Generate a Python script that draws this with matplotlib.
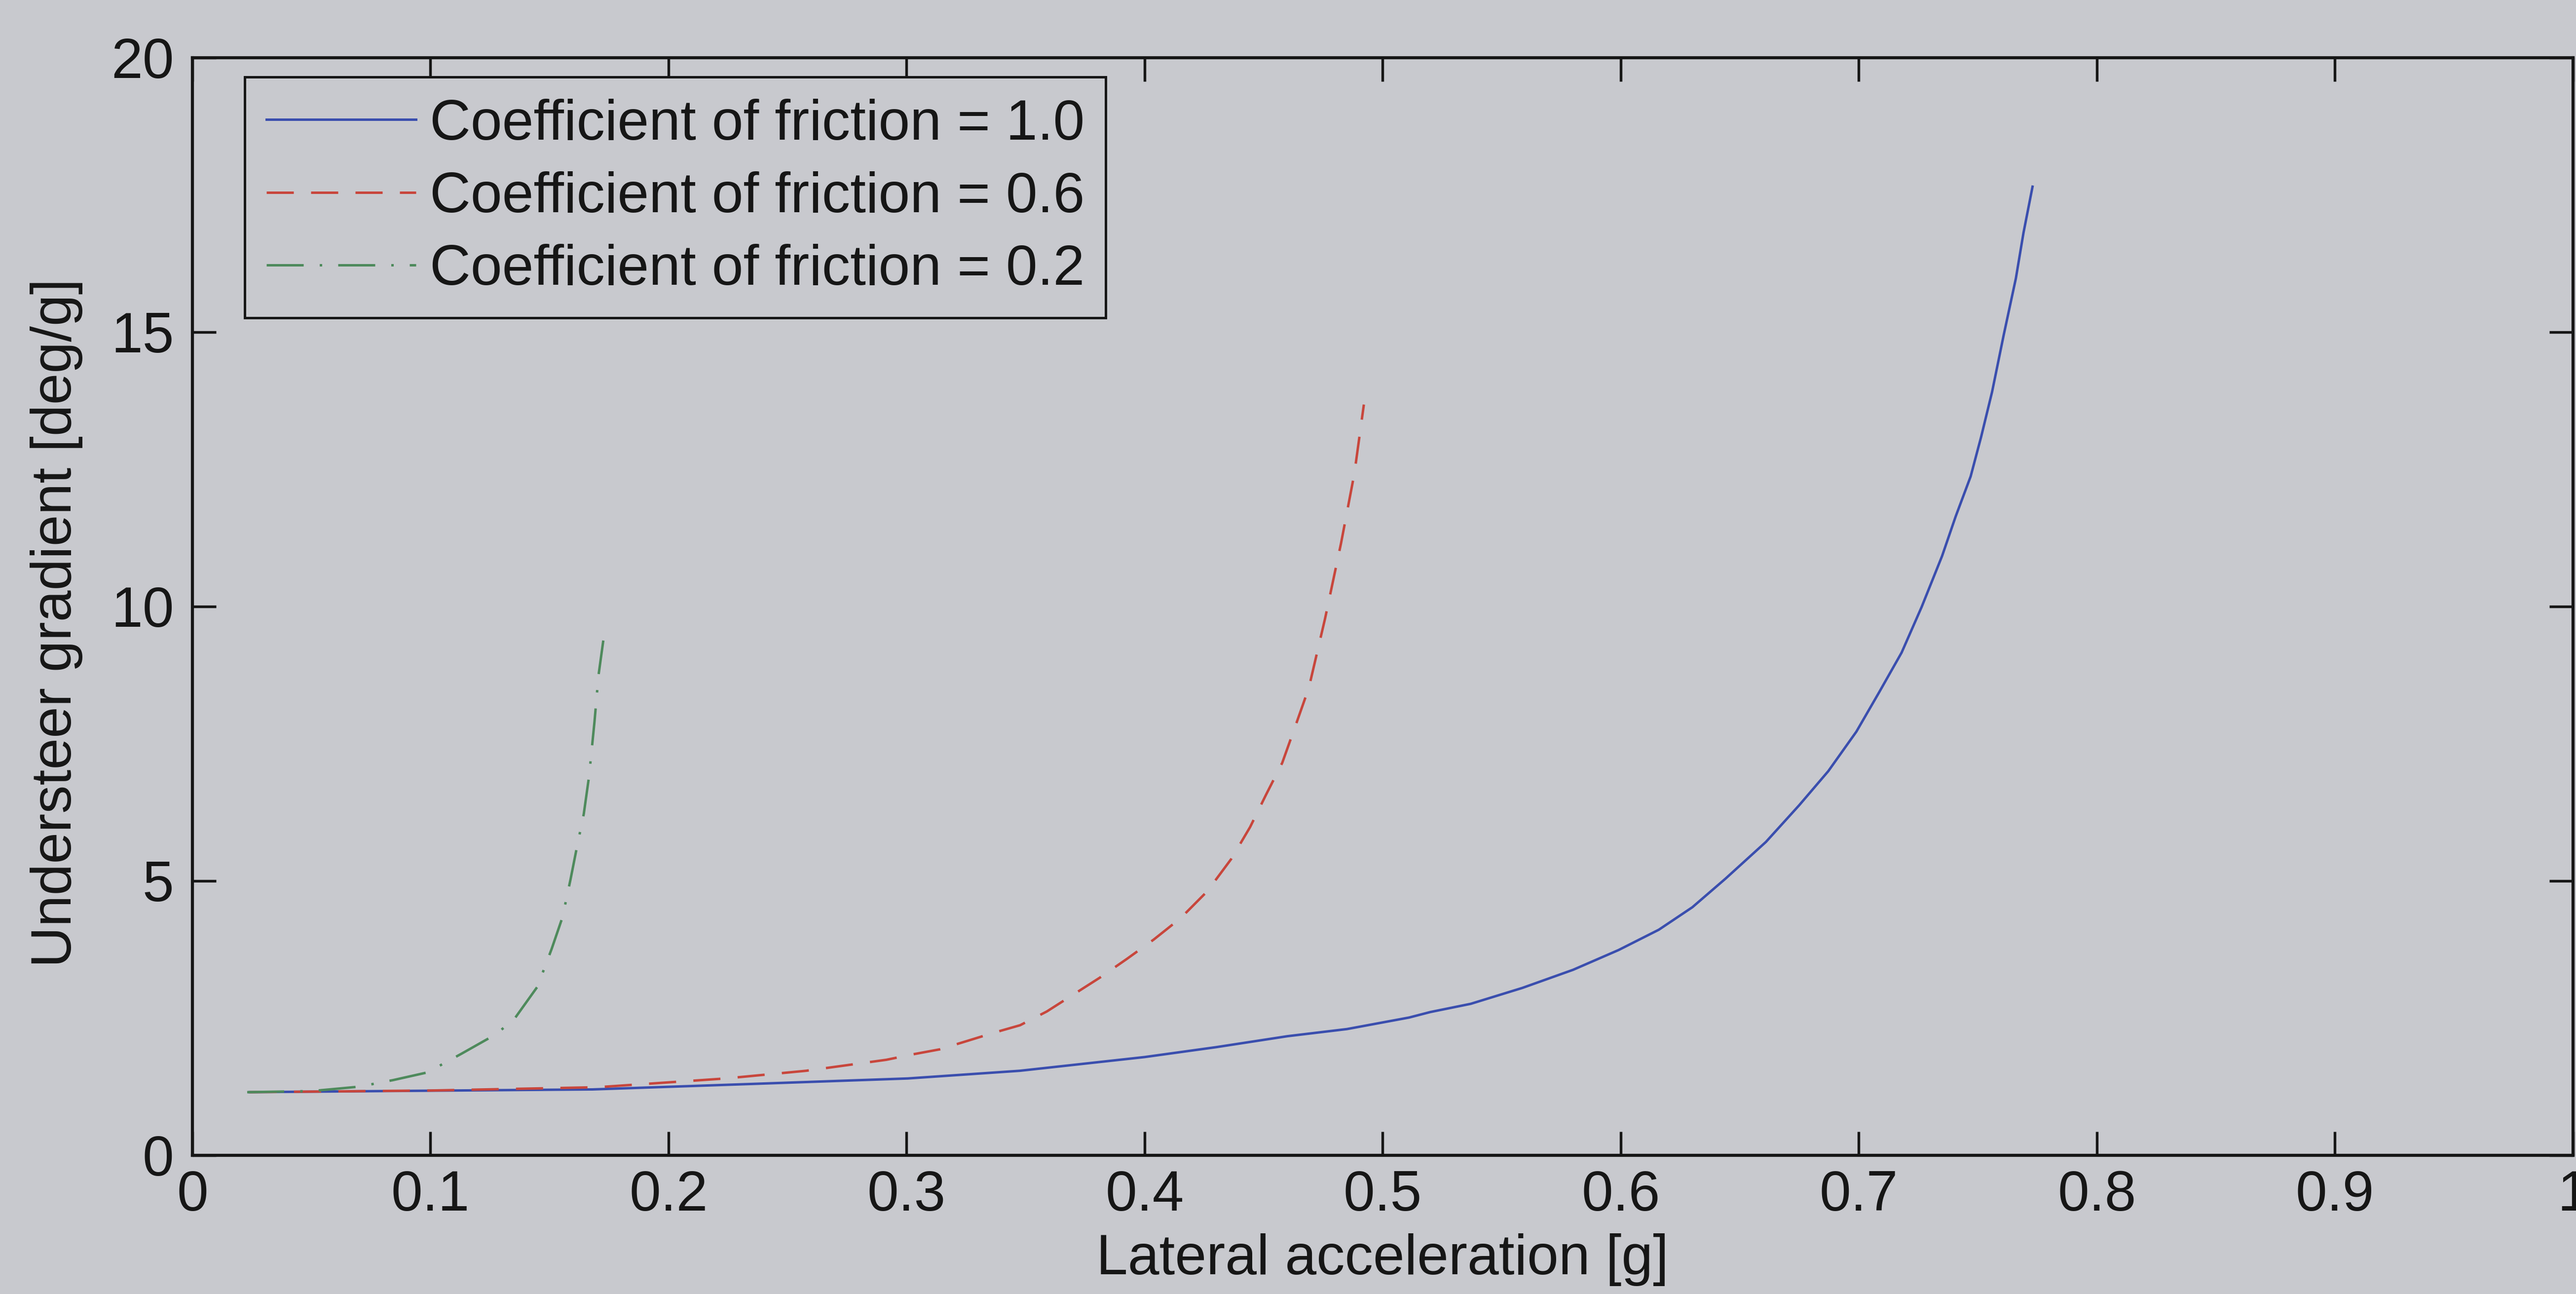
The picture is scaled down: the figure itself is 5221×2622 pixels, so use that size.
import numpy as np
import matplotlib
matplotlib.use('Agg')
import matplotlib.pyplot as plt

plt.rcParams['font.family'] = ['Liberation Sans', 'DejaVu Sans']

# data
# mu = 1.0
ay_mu10 = [0.024, 0.08, 0.168, 0.235, 0.3005, 0.3476, 0.400, 0.430, 0.460, 0.485,
           0.5111, 0.520, 0.537, 0.5587, 0.580, 0.5991, 0.616, 0.6301, 0.644, 0.6610,
           0.675, 0.6872, 0.699, 0.7086, 0.718, 0.7264, 0.735, 0.7407, 0.747, 0.7514,
           0.756, 0.7609, 0.766, 0.7692, 0.773]
ku_mu10 = [1.15, 1.17, 1.20, 1.30, 1.40, 1.54, 1.79, 1.97, 2.17, 2.30,
           2.51, 2.61, 2.76, 3.05, 3.38, 3.74, 4.11, 4.52, 5.04, 5.71,
           6.38, 7.00, 7.72, 8.44, 9.16, 9.99, 10.92, 11.64, 12.37, 13.09,
           13.91, 14.95, 15.98, 16.81, 17.65]
# mu = 0.6
ay_mu06 = [0.024, 0.10, 0.17, 0.1903, 0.224, 0.2578, 0.2915, 0.3027, 0.3139, 0.3252,
           0.3364, 0.3477, 0.3589, 0.3701, 0.3813, 0.3926, 0.4038, 0.4151, 0.4263, 0.4364,
           0.4443, 0.4510, 0.4578, 0.4634, 0.4690, 0.4758, 0.4825, 0.4881, 0.4921]
ku_mu06 = [1.15, 1.18, 1.24, 1.30, 1.40, 1.54, 1.74, 1.84, 1.93, 2.08,
           2.23, 2.37, 2.62, 2.93, 3.24, 3.58, 3.93, 4.32, 4.81, 5.40,
           5.98, 6.57, 7.15, 7.83, 8.52, 9.78, 11.15, 12.42, 13.68]
# mu = 0.2
ay_mu02 = [0.023, 0.05, 0.07, 0.0843, 0.0987, 0.113, 0.1277, 0.1355, 0.1449, 0.1509,
           0.1554, 0.1588, 0.1614, 0.1644, 0.1666, 0.1689, 0.1706, 0.1726]
ku_mu02 = [1.15, 1.17, 1.25, 1.37, 1.51, 1.85, 2.21, 2.50, 3.07, 3.76,
           4.33, 5.02, 5.59, 6.22, 6.90, 7.90, 8.75, 9.38]

labels = ['Coefficient of friction = 1.0',
          'Coefficient of friction = 0.6',
          'Coefficient of friction = 0.2']
xticks = [0, 0.1, 0.2, 0.3, 0.4, 0.5, 0.6, 0.7, 0.8, 0.9, 1]
xtick_labels = ['0', '0.1', '0.2', '0.3', '0.4', '0.5', '0.6', '0.7', '0.8', '0.9', '1']
yticks = [0, 5, 10, 15, 20]

bg = '#c8c9ce'
ink = '#161616'

fig = plt.figure(figsize=(5221/300, 2622/300), dpi=300, facecolor=bg)
ax = fig.add_axes([0.0747, 0.1072, 0.9241, 0.8482], facecolor=bg)

ax.plot(ay_mu10, ku_mu10, color='#3a4eae', lw=1.2, label=labels[0])
ax.plot(ay_mu06, ku_mu06, color='#c8463c', lw=1.2, dashes=(11, 7), label=labels[1])
ax.plot(ay_mu02, ku_mu02, color='#4e8a5c', lw=1.2, dashes=(15, 6.5, 1, 6.5), label=labels[2])

ax.set_xlim(0, 1)
ax.set_ylim(0, 20)
ax.set_xticks(xticks)
ax.set_xticklabels(xtick_labels)
ax.set_yticks(yticks)

for s in ax.spines.values():
    s.set_linewidth(1.5)
    s.set_color(ink)
ax.tick_params(direction='in', length=11.5, width=1.3, colors=ink,
               labelsize=27.5, top=True, right=True)
ax.tick_params(axis='x', pad=7)
ax.tick_params(axis='y', pad=9)

ax.set_xlabel('Lateral acceleration [g]', fontsize=27.5, color=ink)
ax.set_ylabel('Understeer gradient [deg/g]', fontsize=27.5, color=ink)
ax.xaxis.set_label_coords(0.5, -0.071)
ax.yaxis.set_label_coords(-0.046, 0.485)

leg = ax.legend(loc='upper left', bbox_to_anchor=(496/5221, 1 - 156/2622),
                bbox_transform=fig.transFigure, borderaxespad=0,
                fontsize=27.5, handlelength=2.65, handletextpad=0.24,
                borderpad=0.38, labelspacing=0.35, fancybox=False,
                framealpha=1, facecolor=bg, edgecolor=ink)
leg.get_frame().set_linewidth(1.2)
for t in leg.get_texts():
    t.set_color(ink)

fig.savefig('out.png', dpi=300, facecolor=bg)
